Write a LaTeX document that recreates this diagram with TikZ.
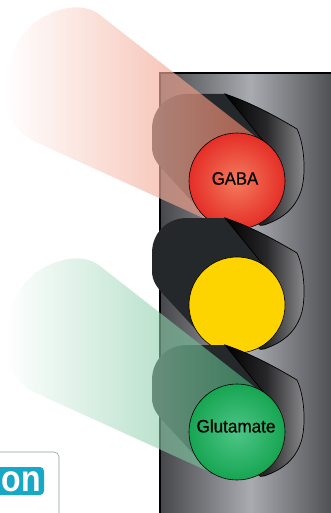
\documentclass[tikz,border=0pt]{standalone}
\usepackage{fontspec}
\newfontfamily\lampfont[FakeBold=0.5]{Liberation Sans}
\newfontfamily\logofont{Liberation Sans}
\usepackage{color}

\definecolor{housedark}{HTML}{46474B}
\definecolor{houselight}{HTML}{A9ABB0}
\definecolor{hooddark}{HTML}{25282B}
\definecolor{visormid}{HTML}{262628}
\definecolor{visorgray}{HTML}{8E8E90}
\definecolor{beamred}{HTML}{EC7A5C}
\definecolor{beamgreen}{HTML}{45B078}
\definecolor{redin}{HTML}{F47B5D}
\definecolor{redout}{HTML}{E52E27}
\definecolor{ambercol}{HTML}{FDD300}
\definecolor{greenin}{HTML}{4DC688}
\definecolor{greenout}{HTML}{17A552}
\definecolor{logocyan}{HTML}{17A8C6}
\definecolor{logoedge}{HTML}{8C9BA1}

\begin{document}
\begin{tikzpicture}[%
      x=1pt, y=-1pt,
      hood/.style={fill=hooddark},
      visor/.style={left color=black, right color=visorgray, middle color=visormid, draw=black, line width=0.7pt},
      beam/.style={left color=white, fill opacity=0.66},
      lamp/.style={circle, draw=black, line width=0.6pt, minimum size=96pt, inner sep=0pt},
      lamptext/.style={inner sep=0pt, font=\lampfont\fontsize{18}{18}\selectfont},
      ]
      \useasboundingbox (0,0) rectangle (331,513);
      \clip (0,0) rectangle (331,513);

      % housing
      \shade [left color=housedark, right color=housedark, middle color=houselight] (160,73) rectangle (340,530);
      \draw [line width=1.3pt] (340,73) -- (160,73) -- (160,530);

      % top light
      \begin{scope}[shift={(237,181)}]
      \fill [hood] (-10,-87) -- (-50,-87) .. controls (-70,-87) and (-85,-72) .. (-85,-52) -- (-85,-34) .. controls (-85,-24) and (-80,-18) .. (-74,-11) -- (-25,42) -- (0,0) -- (30,-36) -- cycle;
      \shade [beam, right color=beamred] (24,-40) -- (-137,-166) .. controls (-152,-178) and (-177,-176) .. (-202,-159) .. controls (-222,-143) and (-232,-116) .. (-232,-86) .. controls (-232,-61) and (-217,-46) .. (-199,-38) -- (-25,41) -- (10,10) -- cycle;
      \path [visor] (-12,-87) .. controls (15,-78) and (40,-64) .. (60,-52) .. controls (68,-35) and (69,-5) .. (64,10) .. controls (58,28) and (45,38) .. (27,44) .. controls (21,46) and (19,41) .. (24,37) -- (0,0) -- (28,-38) -- cycle;
      \end{scope}
      \node [lamp, inner color=redin, outer color=redout] (redlamp) at (237,181) {};
      \node [lamptext] (gaba) at (235,178.5) {\scalebox{0.93}[1]{GABA}};

      % middle light
      \begin{scope}[shift={(237,305)}]
      \fill [hood] (-10,-87) -- (-50,-87) .. controls (-70,-87) and (-85,-72) .. (-85,-52) -- (-85,-34) .. controls (-85,-24) and (-80,-18) .. (-74,-11) -- (-25,42) -- (0,0) -- (30,-36) -- cycle;
      \path [visor] (-12,-87) .. controls (15,-78) and (40,-64) .. (60,-52) .. controls (68,-35) and (69,-5) .. (64,10) .. controls (58,28) and (45,38) .. (27,44) .. controls (21,46) and (19,41) .. (24,37) -- (0,0) -- (28,-38) -- cycle;
      \end{scope}
      \node [lamp, fill=ambercol] (amberlamp) at (237,305) {};

      % bottom light
      \begin{scope}[shift={(237,432)}]
      \fill [hood] (-10,-87) -- (-50,-87) .. controls (-70,-87) and (-85,-72) .. (-85,-52) -- (-85,-34) .. controls (-85,-24) and (-80,-18) .. (-74,-11) -- (-25,42) -- (0,0) -- (30,-36) -- cycle;
      \shade [beam, right color=beamgreen, fill opacity=0.6] (24,-40) -- (-137,-166) .. controls (-152,-178) and (-177,-176) .. (-202,-159) .. controls (-222,-143) and (-232,-116) .. (-232,-86) .. controls (-232,-61) and (-217,-46) .. (-199,-38) -- (-25,41) -- (10,10) -- cycle;
      \path [visor] (-12,-87) .. controls (15,-78) and (40,-64) .. (60,-52) .. controls (68,-35) and (69,-5) .. (64,10) .. controls (58,28) and (45,38) .. (27,44) .. controls (21,46) and (19,41) .. (24,37) -- (0,0) -- (28,-38) -- cycle;
      \end{scope}
      \node [lamp, inner color=greenin, outer color=greenout] (greenlamp) at (237,432) {};
      \node [lamptext] (glutamate) at (236,426) {\scalebox{0.95}[1]{Glutamate}};

      % logo corner
      \draw [color=logoedge, line width=0.6pt, rounded corners=5pt] (-10,452) rectangle (59,530);
      \fill [color=logocyan, rounded corners=4pt] (-10,467) rectangle (44,495);
      \node [anchor=base east, inner sep=0pt, text=white, font=\logofont\bfseries\fontsize{32}{32}\selectfont] (logo) at (41,491) {\scalebox{1}[1.15]{on}};
\end{tikzpicture}
\end{document}
